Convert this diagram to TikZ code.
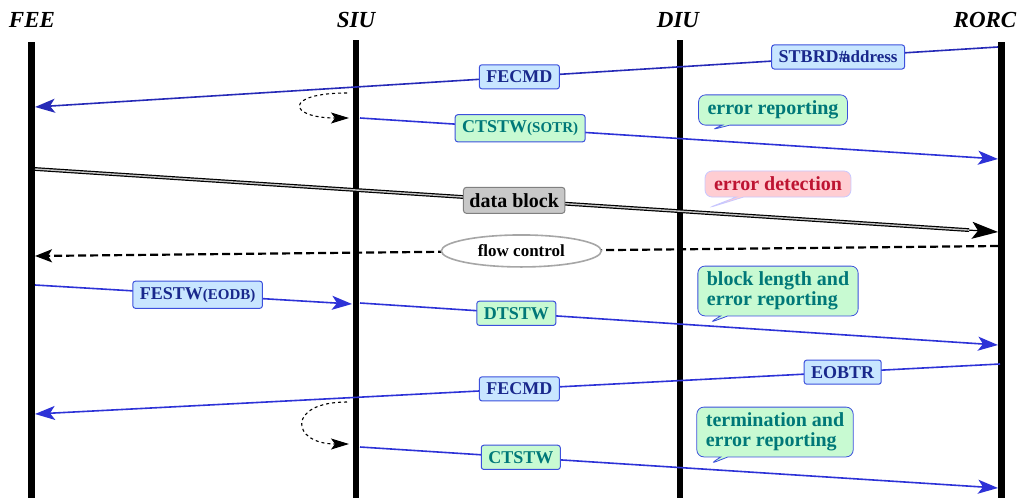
\documentclass[tikz,border=0pt]{standalone}
\usepackage{fontspec}
\setmainfont{Liberation Serif}
\usetikzlibrary{arrows.meta,shapes.callouts,shapes.geometric}

\definecolor{msgline}{RGB}{45,50,215}
\definecolor{cmdfill}{RGB}{200,230,255}
\definecolor{cmdtext}{RGB}{25,40,140}
\definecolor{stwfill}{RGB}{200,250,210}
\definecolor{stwtext}{RGB}{0,120,120}
\definecolor{boxedge}{RGB}{60,80,220}
\definecolor{errfill}{RGB}{255,205,210}
\definecolor{errtext}{RGB}{190,20,50}
\definecolor{erredge}{RGB}{200,200,255}
\definecolor{blockfill}{RGB}{200,200,200}

\begin{document}
\begin{tikzpicture}[x=1pt,y=-1pt,
  lifeline/.style={line width=6.5pt},
  actor/.style={anchor=base,font=\fontsize{23}{25}\selectfont\bfseries\itshape},
  msg/.style={draw=msgline,line width=1.6pt,-{Stealth[length=20pt,width=14pt,inset=5pt]}},
  cmdbox/.style={solid,draw=boxedge,fill=cmdfill,text=cmdtext,rounded corners=2.5pt,
    line width=1pt,font=\fontsize{18}{20}\selectfont\bfseries,inner xsep=7pt,inner ysep=6pt},
  stwbox/.style={cmdbox,fill=stwfill,text=stwtext},
  note/.style={rectangle callout,draw=boxedge,fill=stwfill,text=stwtext,rounded corners=7pt,
    line width=0.8pt,font=\fontsize{20}{19.5}\selectfont\bfseries,align=left,
    inner xsep=9pt,inner ysep=6pt},
  errnote/.style={note,draw=erredge,fill=errfill,text=errtext},
  blockbox/.style={draw=gray,fill=blockfill,rounded corners=3pt,line width=1pt,
    font=\fontsize{20}{22}\selectfont\bfseries,inner xsep=6pt,inner ysep=6pt},
  flowbox/.style={solid,ellipse,draw=gray!70,fill=white,line width=1.6pt,
    font=\fontsize{17}{19}\selectfont\bfseries,minimum width=160pt,minimum height=32pt,inner sep=0pt},
  selfloop/.style={dashed,line width=1.1pt,-{Stealth[length=18pt,width=11pt,inset=4pt]}}
]
\useasboundingbox (0,0) rectangle (1027,498);

% actors
\node[actor] (fee)  at (32,27)  {FEE};
\node[actor] (siu)  at (356,27) {SIU};
\node[actor] (diu)  at (678,27) {DIU};
\node[actor] (rorc) at (985,27) {RORC};

% lifelines
\coordinate (feeT) at (31.5,42);  \coordinate (feeB) at (31.5,498);
\coordinate (siuT) at (356,40);   \coordinate (siuB) at (356,498);
\coordinate (diuT) at (680,40);   \coordinate (diuB) at (680,498);
\coordinate (rorcT) at (1001.5,42); \coordinate (rorcB) at (1001.5,498);
\draw[lifeline] (feeT) -- (feeB);
\draw[lifeline] (siuT) -- (siuB);
\draw[lifeline] (diuT) -- (diuB);
\draw[lifeline] (rorcT) -- (rorcB);

% message end points on the lifelines
\coordinate (r1) at (998,47);   \coordinate (f1) at (35,107);
\coordinate (l1a) at (347,93);  \coordinate (l1b) at (349,118);
\coordinate (s2) at (360,118);  \coordinate (r2) at (998,159);
\coordinate (f3) at (35,169);   \coordinate (r3) at (998,232);
\coordinate (r4) at (998,246);  \coordinate (f4) at (35,256);
\coordinate (f5) at (35,285);   \coordinate (s5) at (352,304);
\coordinate (s6) at (360,303);  \coordinate (r6) at (998,345);
\coordinate (r7) at (1000,364); \coordinate (f7) at (35,414);
\coordinate (l2a) at (347,402); \coordinate (l2b) at (349,444);
\coordinate (s8) at (360,447);  \coordinate (r8) at (998,488);

% start of block read
\draw[msg,draw=msgline!85!black] (r1) --
  node[cmdbox,pos=0.166] (stbrd) {STBRD{\fontsize{17}{19}\selectfont\#\kern-0.3em address}}
  node[cmdbox,pos=0.497] (fecmdA) {FECMD} (f1);
\draw[selfloop] (l1a) .. controls (283,93) and (288,118) .. (l1b);
\draw[msg] (s2) --
  node[stwbox,pos=0.251] (ctstwA) {CTSTW{\fontsize{15}{17}\selectfont(SOTR)}} (r2);
\node[note,callout absolute pointer={(711,130)}] (repA) at (773,110) {error reporting};

% data transfer
\path (f3) -- coordinate[pos=0.97] (d3) (r3);
\draw[double=gray!45,double distance=1.4pt,line width=1.2pt] (f3) --
  node[blockbox,pos=0.513] (blk) {data block} (d3);
\draw[line width=1.2pt,-{Stealth[length=26pt,width=17pt,inset=6pt]}] (d3) -- (r3);
\node[errnote,callout absolute pointer={(708,208)}] (errdet) at (778,184) {error detection};

% flow control
\draw[dash pattern=on 8pt off 4pt,line width=2.2pt,-{Stealth[length=17pt,width=13pt,inset=4pt]}] (r4) --
  node[flowbox,pos=0.495] (flow) {flow control} (f4);

% end of data block
\draw[msg] (f5) --
  node[cmdbox,pos=0.513] (festw) {FESTW{\fontsize{15}{17}\selectfont(EODB)}} (s5);
\draw[msg] (s6) --
  node[stwbox,pos=0.245] (dtstw) {DTSTW} (r6);
\node[note,callout absolute pointer={(709,323)}] (repB) at (778,291)
  {block length and\\error reporting};

% end of block transfer
\draw[msg] (r7) --
  node[cmdbox,pos=0.163] (eobtr) {EOBTR}
  node[cmdbox,pos=0.498] (fecmdB) {FECMD} (f7);
\draw[selfloop] (l2a) .. controls (286,402) and (291,444) .. (l2b);
\draw[msg] (s8) --
  node[stwbox,pos=0.252] (ctstwB) {CTSTW} (r8);
\node[note,callout absolute pointer={(710,464)}] (repC) at (775,432)
  {termination and\\error reporting};
\end{tikzpicture}
\end{document}
